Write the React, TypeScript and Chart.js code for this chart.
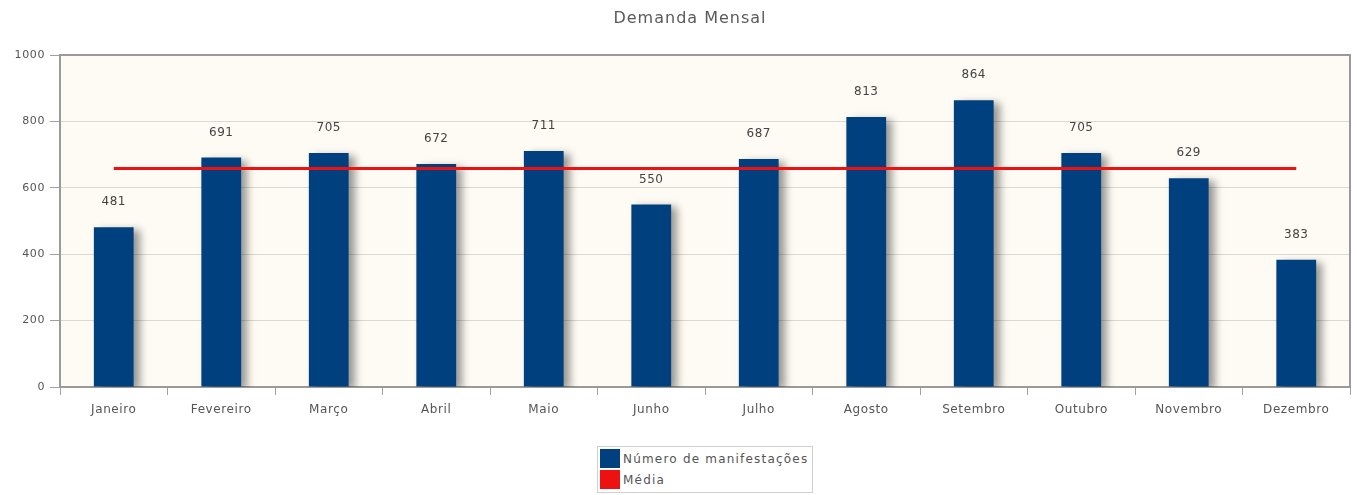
import React, { useEffect, useRef } from "react";
import { Chart, registerables } from "chart.js";

Chart.register(...registerables);

const months = ["Janeiro", "Fevereiro", "Março", "Abril", "Maio", "Junho", "Julho", "Agosto", "Setembro", "Outubro", "Novembro", "Dezembro"];
const manifestacoes = [481, 691, 705, 672, 711, 550, 687, 813, 864, 705, 629, 383];
const media = [658, 658, 658, 658, 658, 658, 658, 658, 658, 658, 658, 658];
const yTicks = [0, 200, 400, 600, 800, 1000];
const titleText = "Demanda Mensal";
const legendLabels = ["Número de manifestações", "Média"];

const BLUE = "#01407f";
const RED = "#ee1111";
const FONT = "'DejaVu Sans', sans-serif";

const decorPlugin = {
  id: "decor",
  beforeDraw(chart: any) {
    const { ctx, chartArea: a } = chart;
    (ctx as any).letterSpacing = "0.6px";
    ctx.save();
    ctx.fillStyle = "#fdfbf3";
    ctx.fillRect(a.left, a.top, a.right - a.left, a.bottom - a.top);
    ctx.restore();
  },
  beforeDatasetDraw(chart: any, args: any) {
    if (args.index === 0) {
      const ctx = chart.ctx;
      ctx.save();
      ctx.shadowColor = "rgba(0,0,0,0.4)";
      ctx.shadowOffsetX = 6;
      ctx.shadowOffsetY = 3;
      ctx.shadowBlur = 8;
    }
  },
  afterDatasetDraw(chart: any, args: any) {
    if (args.index === 0) chart.ctx.restore();
  },
  afterDraw(chart: any) {
    const { ctx, chartArea: a } = chart;
    ctx.save();
    ctx.strokeStyle = "#9a9a9a";
    ctx.lineWidth = 2;
    ctx.beginPath();
    ctx.moveTo(a.left, a.top);
    ctx.lineTo(a.right, a.top);
    ctx.lineTo(a.right, a.bottom);
    ctx.stroke();
    const meta = chart.getDatasetMeta(0);
    ctx.fillStyle = "#444";
    ctx.font = `12px ${FONT}`;
    ctx.textAlign = "center";
    ctx.textBaseline = "middle";
    meta.data.forEach((bar: any, i: number) => {
      ctx.fillText(String(manifestacoes[i]), bar.x, bar.y - 25);
    });
    ctx.fillStyle = "#5a5a5a";
    ctx.font = `16px ${FONT}`;
    (ctx as any).letterSpacing = "1px";
    ctx.fillText(titleText, 690, 19);
    ctx.restore();
  },
};

export default function App() {
  const ref = useRef<HTMLCanvasElement>(null);
  useEffect(() => {
    const chart = new Chart(ref.current!, {
      type: "bar",
      data: {
        labels: months,
        datasets: [
          {
            type: "bar",
            label: legendLabels[0],
            data: manifestacoes,
            backgroundColor: BLUE,
            categoryPercentage: 1,
            barPercentage: 0.37,
            order: 2,
          },
          {
            type: "line",
            label: legendLabels[1],
            data: media,
            borderColor: RED,
            borderWidth: 3,
            pointRadius: 0,
            fill: false,
            order: 1,
          },
        ],
      },
      options: {
        animation: false,
        responsive: false,
        maintainAspectRatio: false,
        layout: { padding: { left: 0, right: 7, top: 55, bottom: 0 } },
        plugins: {
          legend: { display: false },
          title: { display: false },
          tooltip: { enabled: false },
        },
        scales: {
          x: {
            offset: true,
            grid: {
              offset: true,
              drawOnChartArea: false,
              drawTicks: true,
              tickLength: 8,
              tickColor: "#a0a0a0",
              lineWidth: 1,
            },
            border: { display: true, color: "#9a9a9a", width: 2 },
            ticks: { color: "#555", font: { family: FONT, size: 12 }, padding: 8, maxRotation: 0 },
            afterFit: (s: any) => { s.height = 53; },
          },
          y: {
            min: 0,
            max: 1000,
            afterBuildTicks: (s: any) => { s.ticks = yTicks.map((v) => ({ value: v })); },
            grid: {
              color: "#dcd8cc",
              drawTicks: true,
              tickLength: 10,
              tickColor: "#a0a0a0",
            },
            border: { display: true, color: "#9a9a9a", width: 2 },
            ticks: {
              color: "#555",
              font: { family: FONT, size: 11 },
              padding: 5,
              callback: (v: any) => String(v),
            },
            afterFit: (s: any) => { s.width = 60; },
          },
        },
      },
      plugins: [decorPlugin],
    } as any);
    return () => chart.destroy();
  }, []);

  const legendColors = [BLUE, RED];
  return (
    <div style={{ position: "absolute", left: 0, top: 0, width: 1357, height: 495, background: "#fff" }}>
      <canvas ref={ref} width={1357} height={440} style={{ display: "block" }} />
      <div
        style={{
          position: "absolute",
          left: 597,
          top: 446,
          width: 216,
          height: 47,
          border: "1px solid #d0d0d0",
          boxSizing: "border-box",
          padding: "1px 2px",
          fontFamily: FONT,
          fontSize: 12,
          letterSpacing: "1.2px",
          color: "#555",
          whiteSpace: "nowrap",
          overflow: "hidden",
        }}
      >
        {legendLabels.map((l, i) => (
          <div key={l} style={{ display: "flex", alignItems: "center", height: 21 }}>
            <span style={{ display: "inline-block", width: 20, height: 19, background: legendColors[i], marginRight: 3 }} />
            <span>{l}</span>
          </div>
        ))}
      </div>
    </div>
  );
}
